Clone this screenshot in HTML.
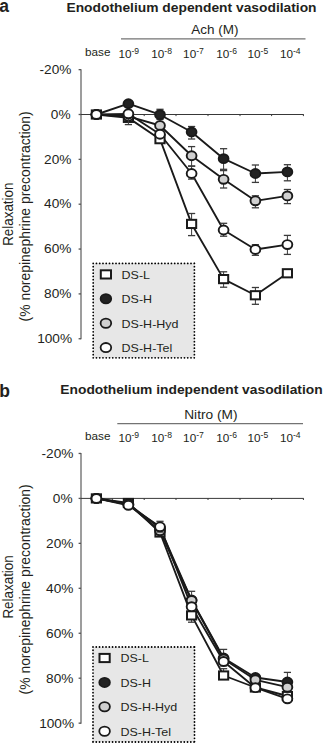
<!DOCTYPE html>
<html><head><meta charset="utf-8"><style>
html,body{margin:0;padding:0;background:#fff;}
body{width:324px;height:743px;position:relative;overflow:hidden;font-family:"Liberation Sans", sans-serif;}
</style></head><body>
<svg width="324" height="743" viewBox="0 0 324 743" style="position:absolute;left:0;top:0;font-family:'Liberation Sans', sans-serif">
<rect width="324" height="743" fill="#fff"/>
<text transform="translate(-0.80,11.80)" font-size="17.5" text-anchor="start" font-weight="bold" fill="#231f20">a</text>
<text transform="translate(191.50,11.70) scale(1.0550,1)" font-size="13.1" text-anchor="middle" font-weight="bold" fill="#231f20">Enodothelium dependent vasodilation</text>
<text transform="translate(191.30,34.30) scale(1.0150,1)" font-size="13.3" text-anchor="start" font-weight="normal" fill="#231f20">Ach (M)</text>
<line x1="121" y1="38.8" x2="305.5" y2="38.8" stroke="#737373" stroke-width="1.2"/>
<text transform="translate(85.00,55.90) scale(1.0400,1)" font-size="11.3" text-anchor="start" font-weight="normal" fill="#231f20">base</text>
<text transform="translate(118.4,57.9) scale(1.05,1)" font-size="11.2" fill="#231f20">10<tspan font-size="8.2" dy="-4.0">-9</tspan></text>
<text transform="translate(151.2,57.9) scale(1.05,1)" font-size="11.2" fill="#231f20">10<tspan font-size="8.2" dy="-4.0">-8</tspan></text>
<text transform="translate(183.1,57.9) scale(1.05,1)" font-size="11.2" fill="#231f20">10<tspan font-size="8.2" dy="-4.0">-7</tspan></text>
<text transform="translate(216.3,57.9) scale(1.05,1)" font-size="11.2" fill="#231f20">10<tspan font-size="8.2" dy="-4.0">-6</tspan></text>
<text transform="translate(247.5,57.9) scale(1.05,1)" font-size="11.2" fill="#231f20">10<tspan font-size="8.2" dy="-4.0">-5</tspan></text>
<text transform="translate(279.9,57.9) scale(1.05,1)" font-size="11.2" fill="#231f20">10<tspan font-size="8.2" dy="-4.0">-4</tspan></text>
<text transform="translate(71.40,73.80) scale(1.1200,1)" font-size="12.2" text-anchor="end" font-weight="normal" fill="#231f20">-20%</text>
<text transform="translate(70.60,118.65) scale(1.1200,1)" font-size="12.2" text-anchor="end" font-weight="normal" fill="#231f20">0%</text>
<text transform="translate(71.40,163.50) scale(1.1200,1)" font-size="12.2" text-anchor="end" font-weight="normal" fill="#231f20">20%</text>
<text transform="translate(71.40,208.35) scale(1.1200,1)" font-size="12.2" text-anchor="end" font-weight="normal" fill="#231f20">40%</text>
<text transform="translate(71.40,253.20) scale(1.1200,1)" font-size="12.2" text-anchor="end" font-weight="normal" fill="#231f20">60%</text>
<text transform="translate(71.40,298.05) scale(1.1200,1)" font-size="12.2" text-anchor="end" font-weight="normal" fill="#231f20">80%</text>
<text transform="translate(72.10,342.90) scale(1.1200,1)" font-size="12.2" text-anchor="end" font-weight="normal" fill="#231f20">100%</text>
<text transform="translate(13.20,214.20) rotate(-90) scale(0.9650,1)" font-size="13.9" text-anchor="middle" font-weight="normal" fill="#231f20">Relaxation</text>
<text transform="translate(29.80,216.40) rotate(-90)" font-size="13.9" text-anchor="middle" font-weight="normal" fill="#231f20">(% norepinephrine precontraction)</text>
<line x1="81.0" y1="69.15" x2="81.0" y2="339.25" stroke="#858585" stroke-width="1.6"/>
<line x1="78.6" y1="69.65" x2="81.0" y2="69.65" stroke="#555" stroke-width="1.3"/>
<line x1="78.6" y1="114.50" x2="81.0" y2="114.50" stroke="#555" stroke-width="1.3"/>
<line x1="78.6" y1="159.35" x2="81.0" y2="159.35" stroke="#555" stroke-width="1.3"/>
<line x1="78.6" y1="204.20" x2="81.0" y2="204.20" stroke="#555" stroke-width="1.3"/>
<line x1="78.6" y1="249.05" x2="81.0" y2="249.05" stroke="#555" stroke-width="1.3"/>
<line x1="78.6" y1="293.90" x2="81.0" y2="293.90" stroke="#555" stroke-width="1.3"/>
<line x1="78.6" y1="338.75" x2="81.0" y2="338.75" stroke="#555" stroke-width="1.3"/>
<line x1="81.0" y1="114.5" x2="303.8" y2="114.5" stroke="#383838" stroke-width="1"/>
<line x1="112.3" y1="114.5" x2="112.3" y2="116.1" stroke="#383838" stroke-width="1"/>
<line x1="144.2" y1="114.5" x2="144.2" y2="116.1" stroke="#383838" stroke-width="1"/>
<line x1="176.0" y1="114.5" x2="176.0" y2="116.1" stroke="#383838" stroke-width="1"/>
<line x1="208.0" y1="114.5" x2="208.0" y2="116.1" stroke="#383838" stroke-width="1"/>
<line x1="240.0" y1="114.5" x2="240.0" y2="116.1" stroke="#383838" stroke-width="1"/>
<line x1="271.6" y1="114.5" x2="271.6" y2="116.1" stroke="#383838" stroke-width="1"/>
<line x1="303.4" y1="114.5" x2="303.4" y2="116.1" stroke="#383838" stroke-width="1"/>
<path d="M96.40,114.50 L128.40,117.86 L160.00,139.17 L191.60,223.93 L223.60,279.10 L255.40,295.25 L287.40,273.27" fill="none" stroke="#1a1a1a" stroke-width="1.85" stroke-linejoin="round"/>
<path d="M96.40,114.50 L128.40,103.74 L160.00,114.72 L191.60,131.99 L223.60,158.68 L255.40,173.48 L287.40,171.91" fill="none" stroke="#1a1a1a" stroke-width="1.85" stroke-linejoin="round"/>
<path d="M96.40,114.50 L128.40,116.29 L160.00,125.49 L191.60,155.76 L223.60,179.31 L255.40,200.84 L287.40,195.90" fill="none" stroke="#1a1a1a" stroke-width="1.85" stroke-linejoin="round"/>
<path d="M96.40,114.50 L128.40,113.83 L160.00,134.23 L191.60,173.48 L223.60,229.99 L255.40,249.50 L287.40,244.56" fill="none" stroke="#1a1a1a" stroke-width="1.85" stroke-linejoin="round"/>
<line x1="191.6" y1="213.50" x2="191.6" y2="235.60" stroke="#3a3a3a" stroke-width="1.0"/>
<line x1="188.00" y1="213.50" x2="195.20" y2="213.50" stroke="#3a3a3a" stroke-width="1.3"/>
<line x1="188.00" y1="235.60" x2="195.20" y2="235.60" stroke="#3a3a3a" stroke-width="1.3"/>
<line x1="223.6" y1="271.80" x2="223.6" y2="287.20" stroke="#3a3a3a" stroke-width="1.0"/>
<line x1="220.00" y1="271.80" x2="227.20" y2="271.80" stroke="#3a3a3a" stroke-width="1.3"/>
<line x1="220.00" y1="287.20" x2="227.20" y2="287.20" stroke="#3a3a3a" stroke-width="1.3"/>
<line x1="255.4" y1="287.50" x2="255.4" y2="304.30" stroke="#3a3a3a" stroke-width="1.0"/>
<line x1="251.80" y1="287.50" x2="259.00" y2="287.50" stroke="#3a3a3a" stroke-width="1.3"/>
<line x1="251.80" y1="304.30" x2="259.00" y2="304.30" stroke="#3a3a3a" stroke-width="1.3"/>
<rect x="91.80" y="110.40" width="9.2" height="8.2" fill="#fff" stroke="#1a1a1a" stroke-width="2.0"/>
<rect x="123.80" y="113.76" width="9.2" height="8.2" fill="#fff" stroke="#1a1a1a" stroke-width="2.0"/>
<rect x="155.40" y="135.07" width="9.2" height="8.2" fill="#fff" stroke="#1a1a1a" stroke-width="2.0"/>
<rect x="187.00" y="219.83" width="9.2" height="8.2" fill="#fff" stroke="#1a1a1a" stroke-width="2.0"/>
<rect x="219.00" y="275.00" width="9.2" height="8.2" fill="#fff" stroke="#1a1a1a" stroke-width="2.0"/>
<rect x="250.80" y="291.15" width="9.2" height="8.2" fill="#fff" stroke="#1a1a1a" stroke-width="2.0"/>
<rect x="282.80" y="269.17" width="9.2" height="8.2" fill="#fff" stroke="#1a1a1a" stroke-width="2.0"/>
<line x1="160.0" y1="109.30" x2="160.0" y2="119.50" stroke="#3a3a3a" stroke-width="1.0"/>
<line x1="156.40" y1="109.30" x2="163.60" y2="109.30" stroke="#3a3a3a" stroke-width="1.3"/>
<line x1="156.40" y1="119.50" x2="163.60" y2="119.50" stroke="#3a3a3a" stroke-width="1.3"/>
<line x1="191.6" y1="126.50" x2="191.6" y2="139.00" stroke="#3a3a3a" stroke-width="1.0"/>
<line x1="188.00" y1="126.50" x2="195.20" y2="126.50" stroke="#3a3a3a" stroke-width="1.3"/>
<line x1="188.00" y1="139.00" x2="195.20" y2="139.00" stroke="#3a3a3a" stroke-width="1.3"/>
<line x1="223.6" y1="148.70" x2="223.6" y2="169.30" stroke="#3a3a3a" stroke-width="1.0"/>
<line x1="220.00" y1="148.70" x2="227.20" y2="148.70" stroke="#3a3a3a" stroke-width="1.3"/>
<line x1="220.00" y1="169.30" x2="227.20" y2="169.30" stroke="#3a3a3a" stroke-width="1.3"/>
<line x1="255.4" y1="165.00" x2="255.4" y2="182.40" stroke="#3a3a3a" stroke-width="1.0"/>
<line x1="251.80" y1="165.00" x2="259.00" y2="165.00" stroke="#3a3a3a" stroke-width="1.3"/>
<line x1="251.80" y1="182.40" x2="259.00" y2="182.40" stroke="#3a3a3a" stroke-width="1.3"/>
<line x1="287.4" y1="164.70" x2="287.4" y2="180.80" stroke="#3a3a3a" stroke-width="1.0"/>
<line x1="283.80" y1="164.70" x2="291.00" y2="164.70" stroke="#3a3a3a" stroke-width="1.3"/>
<line x1="283.80" y1="180.80" x2="291.00" y2="180.80" stroke="#3a3a3a" stroke-width="1.3"/>
<ellipse cx="96.4" cy="114.50" rx="4.9" ry="4.45" fill="#222" stroke="#1a1a1a" stroke-width="1.9"/>
<ellipse cx="128.4" cy="103.74" rx="4.9" ry="4.45" fill="#222" stroke="#1a1a1a" stroke-width="1.9"/>
<ellipse cx="160.0" cy="114.72" rx="4.9" ry="4.45" fill="#222" stroke="#1a1a1a" stroke-width="1.9"/>
<ellipse cx="191.6" cy="131.99" rx="4.9" ry="4.45" fill="#222" stroke="#1a1a1a" stroke-width="1.9"/>
<ellipse cx="223.6" cy="158.68" rx="4.9" ry="4.45" fill="#222" stroke="#1a1a1a" stroke-width="1.9"/>
<ellipse cx="255.4" cy="173.48" rx="4.9" ry="4.45" fill="#222" stroke="#1a1a1a" stroke-width="1.9"/>
<ellipse cx="287.4" cy="171.91" rx="4.9" ry="4.45" fill="#222" stroke="#1a1a1a" stroke-width="1.9"/>
<line x1="191.6" y1="146.60" x2="191.6" y2="166.20" stroke="#3a3a3a" stroke-width="1.0"/>
<line x1="188.00" y1="146.60" x2="195.20" y2="146.60" stroke="#3a3a3a" stroke-width="1.3"/>
<line x1="188.00" y1="166.20" x2="195.20" y2="166.20" stroke="#3a3a3a" stroke-width="1.3"/>
<line x1="223.6" y1="170.60" x2="223.6" y2="188.00" stroke="#3a3a3a" stroke-width="1.0"/>
<line x1="220.00" y1="170.60" x2="227.20" y2="170.60" stroke="#3a3a3a" stroke-width="1.3"/>
<line x1="220.00" y1="188.00" x2="227.20" y2="188.00" stroke="#3a3a3a" stroke-width="1.3"/>
<line x1="255.4" y1="195.80" x2="255.4" y2="207.80" stroke="#3a3a3a" stroke-width="1.0"/>
<line x1="251.80" y1="195.80" x2="259.00" y2="195.80" stroke="#3a3a3a" stroke-width="1.3"/>
<line x1="251.80" y1="207.80" x2="259.00" y2="207.80" stroke="#3a3a3a" stroke-width="1.3"/>
<line x1="287.4" y1="189.50" x2="287.4" y2="203.60" stroke="#3a3a3a" stroke-width="1.0"/>
<line x1="283.80" y1="189.50" x2="291.00" y2="189.50" stroke="#3a3a3a" stroke-width="1.3"/>
<line x1="283.80" y1="203.60" x2="291.00" y2="203.60" stroke="#3a3a3a" stroke-width="1.3"/>
<ellipse cx="96.4" cy="114.50" rx="4.9" ry="4.45" fill="#d0d0d0" stroke="#1a1a1a" stroke-width="1.9"/>
<ellipse cx="128.4" cy="116.29" rx="4.9" ry="4.45" fill="#d0d0d0" stroke="#1a1a1a" stroke-width="1.9"/>
<ellipse cx="160.0" cy="125.49" rx="4.9" ry="4.45" fill="#d0d0d0" stroke="#1a1a1a" stroke-width="1.9"/>
<ellipse cx="191.6" cy="155.76" rx="4.9" ry="4.45" fill="#d0d0d0" stroke="#1a1a1a" stroke-width="1.9"/>
<ellipse cx="223.6" cy="179.31" rx="4.9" ry="4.45" fill="#d0d0d0" stroke="#1a1a1a" stroke-width="1.9"/>
<ellipse cx="255.4" cy="200.84" rx="4.9" ry="4.45" fill="#d0d0d0" stroke="#1a1a1a" stroke-width="1.9"/>
<ellipse cx="287.4" cy="195.90" rx="4.9" ry="4.45" fill="#d0d0d0" stroke="#1a1a1a" stroke-width="1.9"/>
<line x1="128.4" y1="110.00" x2="128.4" y2="124.60" stroke="#3a3a3a" stroke-width="1.0"/>
<line x1="124.80" y1="110.00" x2="132.00" y2="110.00" stroke="#3a3a3a" stroke-width="1.3"/>
<line x1="124.80" y1="124.60" x2="132.00" y2="124.60" stroke="#3a3a3a" stroke-width="1.3"/>
<line x1="191.6" y1="166.00" x2="191.6" y2="179.10" stroke="#3a3a3a" stroke-width="1.0"/>
<line x1="188.00" y1="166.00" x2="195.20" y2="166.00" stroke="#3a3a3a" stroke-width="1.3"/>
<line x1="188.00" y1="179.10" x2="195.20" y2="179.10" stroke="#3a3a3a" stroke-width="1.3"/>
<line x1="223.6" y1="223.30" x2="223.6" y2="236.20" stroke="#3a3a3a" stroke-width="1.0"/>
<line x1="220.00" y1="223.30" x2="227.20" y2="223.30" stroke="#3a3a3a" stroke-width="1.3"/>
<line x1="220.00" y1="236.20" x2="227.20" y2="236.20" stroke="#3a3a3a" stroke-width="1.3"/>
<line x1="255.4" y1="244.70" x2="255.4" y2="255.30" stroke="#3a3a3a" stroke-width="1.0"/>
<line x1="251.80" y1="244.70" x2="259.00" y2="244.70" stroke="#3a3a3a" stroke-width="1.3"/>
<line x1="251.80" y1="255.30" x2="259.00" y2="255.30" stroke="#3a3a3a" stroke-width="1.3"/>
<line x1="287.4" y1="235.40" x2="287.4" y2="254.40" stroke="#3a3a3a" stroke-width="1.0"/>
<line x1="283.80" y1="235.40" x2="291.00" y2="235.40" stroke="#3a3a3a" stroke-width="1.3"/>
<line x1="283.80" y1="254.40" x2="291.00" y2="254.40" stroke="#3a3a3a" stroke-width="1.3"/>
<ellipse cx="96.4" cy="114.50" rx="4.9" ry="4.45" fill="#fff" stroke="#1a1a1a" stroke-width="1.9"/>
<ellipse cx="128.4" cy="113.83" rx="4.9" ry="4.45" fill="#fff" stroke="#1a1a1a" stroke-width="1.9"/>
<ellipse cx="160.0" cy="134.23" rx="4.9" ry="4.45" fill="#fff" stroke="#1a1a1a" stroke-width="1.9"/>
<ellipse cx="191.6" cy="173.48" rx="4.9" ry="4.45" fill="#fff" stroke="#1a1a1a" stroke-width="1.9"/>
<ellipse cx="223.6" cy="229.99" rx="4.9" ry="4.45" fill="#fff" stroke="#1a1a1a" stroke-width="1.9"/>
<ellipse cx="255.4" cy="249.50" rx="4.9" ry="4.45" fill="#fff" stroke="#1a1a1a" stroke-width="1.9"/>
<ellipse cx="287.4" cy="244.56" rx="4.9" ry="4.45" fill="#fff" stroke="#1a1a1a" stroke-width="1.9"/>
<rect x="93.2" y="263.4" width="101.2" height="94.40000000000003" fill="#e7e7e7"/>
<path d="M93.2,263.4 H194.4 M93.2,263.4 V357.8 M93.2,357.8 H194.4 M194.4,263.4 V357.8" fill="none" stroke="#000" stroke-width="1.8" stroke-linecap="round" stroke-dasharray="0.01 3.25"/>
<rect x="100.80000000000001" y="270.29999999999995" width="10.2" height="8.2" fill="#fff" stroke="#1a1a1a" stroke-width="2"/>
<text transform="translate(121.60,278.70) scale(1.0600,1)" font-size="11.8" text-anchor="start" font-weight="normal" fill="#231f20">DS-L</text>
<ellipse cx="105.9" cy="298.79999999999995" rx="5.3" ry="4.6" fill="#222" stroke="#1a1a1a" stroke-width="1.8"/>
<text transform="translate(121.60,303.10) scale(1.0600,1)" font-size="11.8" text-anchor="start" font-weight="normal" fill="#231f20">DS-H</text>
<ellipse cx="105.9" cy="323.2" rx="5.3" ry="4.6" fill="#d0d0d0" stroke="#1a1a1a" stroke-width="1.8"/>
<text transform="translate(121.60,327.50) scale(1.0600,1)" font-size="11.8" text-anchor="start" font-weight="normal" fill="#231f20">DS-H-Hyd</text>
<ellipse cx="105.9" cy="347.59999999999997" rx="5.3" ry="4.6" fill="#fff" stroke="#1a1a1a" stroke-width="1.8"/>
<text transform="translate(121.60,351.90) scale(1.0600,1)" font-size="11.8" text-anchor="start" font-weight="normal" fill="#231f20">DS-H-Tel</text>
<text transform="translate(-0.80,396.50)" font-size="17.5" text-anchor="start" font-weight="bold" fill="#231f20">b</text>
<text transform="translate(191.50,393.80) scale(1.0550,1)" font-size="13.1" text-anchor="middle" font-weight="bold" fill="#231f20">Enodothelium independent vasodilation</text>
<text transform="translate(184.20,418.70) scale(1.0300,1)" font-size="13.3" text-anchor="start" font-weight="normal" fill="#231f20">Nitro (M)</text>
<line x1="117.3" y1="423.7" x2="303" y2="423.7" stroke="#737373" stroke-width="1.2"/>
<text transform="translate(85.00,439.90) scale(1.0400,1)" font-size="11.3" text-anchor="start" font-weight="normal" fill="#231f20">base</text>
<text transform="translate(118.4,441.9) scale(1.05,1)" font-size="11.2" fill="#231f20">10<tspan font-size="8.2" dy="-4.0">-9</tspan></text>
<text transform="translate(151.2,441.9) scale(1.05,1)" font-size="11.2" fill="#231f20">10<tspan font-size="8.2" dy="-4.0">-8</tspan></text>
<text transform="translate(183.1,441.9) scale(1.05,1)" font-size="11.2" fill="#231f20">10<tspan font-size="8.2" dy="-4.0">-7</tspan></text>
<text transform="translate(216.3,441.9) scale(1.05,1)" font-size="11.2" fill="#231f20">10<tspan font-size="8.2" dy="-4.0">-6</tspan></text>
<text transform="translate(247.5,441.9) scale(1.05,1)" font-size="11.2" fill="#231f20">10<tspan font-size="8.2" dy="-4.0">-5</tspan></text>
<text transform="translate(279.9,441.9) scale(1.05,1)" font-size="11.2" fill="#231f20">10<tspan font-size="8.2" dy="-4.0">-4</tspan></text>
<text transform="translate(73.40,458.40) scale(1.1200,1)" font-size="12.2" text-anchor="end" font-weight="normal" fill="#231f20">-20%</text>
<text transform="translate(72.60,503.35) scale(1.1200,1)" font-size="12.2" text-anchor="end" font-weight="normal" fill="#231f20">0%</text>
<text transform="translate(73.40,548.30) scale(1.1200,1)" font-size="12.2" text-anchor="end" font-weight="normal" fill="#231f20">20%</text>
<text transform="translate(73.40,593.25) scale(1.1200,1)" font-size="12.2" text-anchor="end" font-weight="normal" fill="#231f20">40%</text>
<text transform="translate(73.40,638.20) scale(1.1200,1)" font-size="12.2" text-anchor="end" font-weight="normal" fill="#231f20">60%</text>
<text transform="translate(73.40,683.15) scale(1.1200,1)" font-size="12.2" text-anchor="end" font-weight="normal" fill="#231f20">80%</text>
<text transform="translate(74.10,728.10) scale(1.1200,1)" font-size="12.2" text-anchor="end" font-weight="normal" fill="#231f20">100%</text>
<text transform="translate(13.20,586.90) rotate(-90) scale(0.9650,1)" font-size="13.9" text-anchor="middle" font-weight="normal" fill="#231f20">Relaxation</text>
<text transform="translate(29.80,589.40) rotate(-90)" font-size="13.9" text-anchor="middle" font-weight="normal" fill="#231f20">(% norepinephrine precontraction)</text>
<line x1="81.0" y1="452.95" x2="81.0" y2="723.65" stroke="#858585" stroke-width="1.6"/>
<line x1="78.6" y1="453.45" x2="81.0" y2="453.45" stroke="#555" stroke-width="1.3"/>
<line x1="78.6" y1="498.40" x2="81.0" y2="498.40" stroke="#555" stroke-width="1.3"/>
<line x1="78.6" y1="543.35" x2="81.0" y2="543.35" stroke="#555" stroke-width="1.3"/>
<line x1="78.6" y1="588.30" x2="81.0" y2="588.30" stroke="#555" stroke-width="1.3"/>
<line x1="78.6" y1="633.25" x2="81.0" y2="633.25" stroke="#555" stroke-width="1.3"/>
<line x1="78.6" y1="678.20" x2="81.0" y2="678.20" stroke="#555" stroke-width="1.3"/>
<line x1="78.6" y1="723.15" x2="81.0" y2="723.15" stroke="#555" stroke-width="1.3"/>
<line x1="81.0" y1="498.4" x2="303.8" y2="498.4" stroke="#383838" stroke-width="1"/>
<line x1="112.3" y1="498.4" x2="112.3" y2="500.0" stroke="#383838" stroke-width="1"/>
<line x1="144.2" y1="498.4" x2="144.2" y2="500.0" stroke="#383838" stroke-width="1"/>
<line x1="176.0" y1="498.4" x2="176.0" y2="500.0" stroke="#383838" stroke-width="1"/>
<line x1="208.0" y1="498.4" x2="208.0" y2="500.0" stroke="#383838" stroke-width="1"/>
<line x1="240.0" y1="498.4" x2="240.0" y2="500.0" stroke="#383838" stroke-width="1"/>
<line x1="271.6" y1="498.4" x2="271.6" y2="500.0" stroke="#383838" stroke-width="1"/>
<line x1="303.4" y1="498.4" x2="303.4" y2="500.0" stroke="#383838" stroke-width="1"/>
<path d="M96.40,498.40 L128.40,503.00 L160.00,532.50 L191.60,615.40 L223.60,675.50 L255.40,687.50 L287.40,696.00" fill="none" stroke="#1a1a1a" stroke-width="1.85" stroke-linejoin="round"/>
<path d="M96.40,498.40 L128.40,504.00 L160.00,528.00 L191.60,600.00 L223.60,658.00 L255.40,677.50 L287.40,682.00" fill="none" stroke="#1a1a1a" stroke-width="1.85" stroke-linejoin="round"/>
<path d="M96.40,498.40 L128.40,504.50 L160.00,530.80 L191.60,600.50 L223.60,659.00 L255.40,679.80 L287.40,687.20" fill="none" stroke="#1a1a1a" stroke-width="1.85" stroke-linejoin="round"/>
<path d="M96.40,498.40 L128.40,505.30 L160.00,526.80 L191.60,606.70 L223.60,661.50 L255.40,687.70 L287.40,698.80" fill="none" stroke="#1a1a1a" stroke-width="1.85" stroke-linejoin="round"/>
<line x1="191.6" y1="609.00" x2="191.6" y2="622.20" stroke="#3a3a3a" stroke-width="1.0"/>
<line x1="188.00" y1="609.00" x2="195.20" y2="609.00" stroke="#3a3a3a" stroke-width="1.3"/>
<line x1="188.00" y1="622.20" x2="195.20" y2="622.20" stroke="#3a3a3a" stroke-width="1.3"/>
<line x1="223.6" y1="668.70" x2="223.6" y2="675.50" stroke="#3a3a3a" stroke-width="1.0"/>
<line x1="220.00" y1="668.70" x2="227.20" y2="668.70" stroke="#3a3a3a" stroke-width="1.3"/>
<line x1="220.00" y1="675.50" x2="227.20" y2="675.50" stroke="#3a3a3a" stroke-width="1.3"/>
<rect x="91.80" y="494.30" width="9.2" height="8.2" fill="#fff" stroke="#1a1a1a" stroke-width="2.0"/>
<rect x="123.80" y="498.90" width="9.2" height="8.2" fill="#fff" stroke="#1a1a1a" stroke-width="2.0"/>
<rect x="155.40" y="528.40" width="9.2" height="8.2" fill="#fff" stroke="#1a1a1a" stroke-width="2.0"/>
<rect x="187.00" y="611.30" width="9.2" height="8.2" fill="#fff" stroke="#1a1a1a" stroke-width="2.0"/>
<rect x="219.00" y="671.40" width="9.2" height="8.2" fill="#fff" stroke="#1a1a1a" stroke-width="2.0"/>
<rect x="250.80" y="683.40" width="9.2" height="8.2" fill="#fff" stroke="#1a1a1a" stroke-width="2.0"/>
<rect x="282.80" y="691.90" width="9.2" height="8.2" fill="#fff" stroke="#1a1a1a" stroke-width="2.0"/>
<line x1="223.6" y1="649.40" x2="223.6" y2="666.00" stroke="#3a3a3a" stroke-width="1.0"/>
<line x1="220.00" y1="649.40" x2="227.20" y2="649.40" stroke="#3a3a3a" stroke-width="1.3"/>
<line x1="220.00" y1="666.00" x2="227.20" y2="666.00" stroke="#3a3a3a" stroke-width="1.3"/>
<line x1="287.4" y1="672.40" x2="287.4" y2="690.00" stroke="#3a3a3a" stroke-width="1.0"/>
<line x1="283.80" y1="672.40" x2="291.00" y2="672.40" stroke="#3a3a3a" stroke-width="1.3"/>
<line x1="283.80" y1="690.00" x2="291.00" y2="690.00" stroke="#3a3a3a" stroke-width="1.3"/>
<ellipse cx="96.4" cy="498.40" rx="4.9" ry="4.45" fill="#222" stroke="#1a1a1a" stroke-width="1.9"/>
<ellipse cx="128.4" cy="504.00" rx="4.9" ry="4.45" fill="#222" stroke="#1a1a1a" stroke-width="1.9"/>
<ellipse cx="160.0" cy="528.00" rx="4.9" ry="4.45" fill="#222" stroke="#1a1a1a" stroke-width="1.9"/>
<ellipse cx="191.6" cy="600.00" rx="4.9" ry="4.45" fill="#222" stroke="#1a1a1a" stroke-width="1.9"/>
<ellipse cx="223.6" cy="658.00" rx="4.9" ry="4.45" fill="#222" stroke="#1a1a1a" stroke-width="1.9"/>
<ellipse cx="255.4" cy="677.50" rx="4.9" ry="4.45" fill="#222" stroke="#1a1a1a" stroke-width="1.9"/>
<ellipse cx="287.4" cy="682.00" rx="4.9" ry="4.45" fill="#222" stroke="#1a1a1a" stroke-width="1.9"/>
<line x1="191.6" y1="591.30" x2="191.6" y2="609.00" stroke="#3a3a3a" stroke-width="1.0"/>
<line x1="188.00" y1="591.30" x2="195.20" y2="591.30" stroke="#3a3a3a" stroke-width="1.3"/>
<line x1="188.00" y1="609.00" x2="195.20" y2="609.00" stroke="#3a3a3a" stroke-width="1.3"/>
<ellipse cx="96.4" cy="498.40" rx="4.9" ry="4.45" fill="#d0d0d0" stroke="#1a1a1a" stroke-width="1.9"/>
<ellipse cx="128.4" cy="504.50" rx="4.9" ry="4.45" fill="#d0d0d0" stroke="#1a1a1a" stroke-width="1.9"/>
<ellipse cx="160.0" cy="530.80" rx="4.9" ry="4.45" fill="#d0d0d0" stroke="#1a1a1a" stroke-width="1.9"/>
<ellipse cx="191.6" cy="600.50" rx="4.9" ry="4.45" fill="#d0d0d0" stroke="#1a1a1a" stroke-width="1.9"/>
<ellipse cx="223.6" cy="659.00" rx="4.9" ry="4.45" fill="#d0d0d0" stroke="#1a1a1a" stroke-width="1.9"/>
<ellipse cx="255.4" cy="679.80" rx="4.9" ry="4.45" fill="#d0d0d0" stroke="#1a1a1a" stroke-width="1.9"/>
<ellipse cx="287.4" cy="687.20" rx="4.9" ry="4.45" fill="#d0d0d0" stroke="#1a1a1a" stroke-width="1.9"/>
<line x1="160.0" y1="521.30" x2="160.0" y2="532.00" stroke="#3a3a3a" stroke-width="1.0"/>
<line x1="156.40" y1="521.30" x2="163.60" y2="521.30" stroke="#3a3a3a" stroke-width="1.3"/>
<line x1="156.40" y1="532.00" x2="163.60" y2="532.00" stroke="#3a3a3a" stroke-width="1.3"/>
<ellipse cx="96.4" cy="498.40" rx="4.9" ry="4.45" fill="#fff" stroke="#1a1a1a" stroke-width="1.9"/>
<ellipse cx="128.4" cy="505.30" rx="4.9" ry="4.45" fill="#fff" stroke="#1a1a1a" stroke-width="1.9"/>
<ellipse cx="160.0" cy="526.80" rx="4.9" ry="4.45" fill="#fff" stroke="#1a1a1a" stroke-width="1.9"/>
<ellipse cx="191.6" cy="606.70" rx="4.9" ry="4.45" fill="#fff" stroke="#1a1a1a" stroke-width="1.9"/>
<ellipse cx="223.6" cy="661.50" rx="4.9" ry="4.45" fill="#fff" stroke="#1a1a1a" stroke-width="1.9"/>
<ellipse cx="255.4" cy="687.70" rx="4.9" ry="4.45" fill="#fff" stroke="#1a1a1a" stroke-width="1.9"/>
<ellipse cx="287.4" cy="698.80" rx="4.9" ry="4.45" fill="#fff" stroke="#1a1a1a" stroke-width="1.9"/>
<rect x="93.0" y="647.0" width="101.5" height="95.0" fill="#e7e7e7"/>
<path d="M93.0,647.0 H194.5 M93.0,647.0 V742.0 M93.0,742.0 H194.5 M194.5,647.0 V742.0" fill="none" stroke="#000" stroke-width="1.8" stroke-linecap="round" stroke-dasharray="0.01 3.25"/>
<rect x="99.5" y="653.9" width="10.2" height="8.2" fill="#fff" stroke="#1a1a1a" stroke-width="2"/>
<text transform="translate(120.40,662.30) scale(1.0600,1)" font-size="11.8" text-anchor="start" font-weight="normal" fill="#231f20">DS-L</text>
<ellipse cx="104.6" cy="682.4" rx="5.3" ry="4.6" fill="#222" stroke="#1a1a1a" stroke-width="1.8"/>
<text transform="translate(120.40,686.70) scale(1.0600,1)" font-size="11.8" text-anchor="start" font-weight="normal" fill="#231f20">DS-H</text>
<ellipse cx="104.6" cy="706.8" rx="5.3" ry="4.6" fill="#d0d0d0" stroke="#1a1a1a" stroke-width="1.8"/>
<text transform="translate(120.40,711.10) scale(1.0600,1)" font-size="11.8" text-anchor="start" font-weight="normal" fill="#231f20">DS-H-Hyd</text>
<ellipse cx="104.6" cy="731.2" rx="5.3" ry="4.6" fill="#fff" stroke="#1a1a1a" stroke-width="1.8"/>
<text transform="translate(120.40,735.50) scale(1.0600,1)" font-size="11.8" text-anchor="start" font-weight="normal" fill="#231f20">DS-H-Tel</text>
</svg>
</body></html>
